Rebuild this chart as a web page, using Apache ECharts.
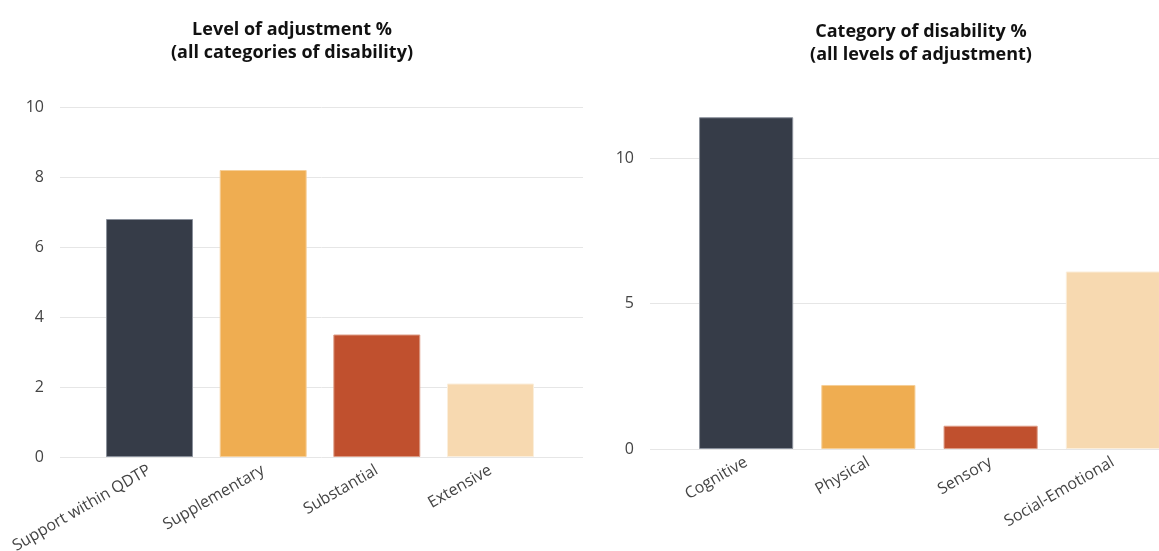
<!DOCTYPE html>
<html>
<head>
<meta charset="utf-8">
<script src="https://cdn.jsdelivr.net/npm/echarts@6/dist/echarts.min.js"></script>
<style>
html,body{margin:0;padding:0;background:#fff;}
#c{width:1159px;height:551px;}
</style>
</head>
<body>
<div id="c"></div>
<script>
// ---- data ----
const levelCategories = ['Support within QDTP', 'Supplementary', 'Substantial', 'Extensive'];
const levelValues = [6.8, 8.2, 3.5, 2.1];
const disabilityCategories = ['Cognitive', 'Physical', 'Sensory', 'Social-Emotional'];
const disabilityValues = [11.4, 2.2, 0.8, 6.1];
const barColors = ['#363c48', '#efad51', '#c0502e', '#f7d9b0'];
const borderColors = ['#8a909b', '#f6cf98', '#dd9c86', '#fbeedb'];
const leftTitle = 'Level of adjustment %\n(all categories of disability)';
const rightTitle = 'Category of disability %\n(all levels of adjustment)';

const FONT = '"Open Sans", "Noto Sans", sans-serif';
const chart = echarts.init(document.getElementById('c'), null, {renderer: 'canvas'});

function barData(vals) {
  return vals.map((v, i) => ({
    value: v,
    itemStyle: {color: barColors[i], borderColor: borderColors[i], borderWidth: 1}
  }));
}

const catLabel = {
  rotate: 30, fontSize: 16, color: '#444', fontFamily: FONT, margin: 12, interval: 0
};
const titleStyle = {fontSize: 18, fontWeight: 'bold', color: '#111', fontFamily: FONT, lineHeight: 23};

chart.setOption({
  animation: false,
  title: [
    {text: leftTitle, left: 287, top: 13, textAlign: 'center', textStyle: titleStyle},
    {text: rightTitle, left: 916, top: 15, textAlign: 'center', textStyle: titleStyle}
  ],
  grid: [
    // gridline grids
    {left: 60, top: 107, width: 523, height: 350, outerBoundsMode: 'none'},
    {left: 650, top: 12.5, width: 560, height: 436.5, outerBoundsMode: 'none'},
    // bar grids
    {left: 92.7, top: 107, width: 454.6, height: 350, outerBoundsMode: 'none'},
    {left: 685, top: 12.5, width: 489, height: 436.5, outerBoundsMode: 'none'}
  ],
  xAxis: [
    {gridIndex: 0, type: 'category', data: levelCategories, show: false},
    {gridIndex: 1, type: 'category', data: disabilityCategories, show: false},
    {gridIndex: 2, type: 'category', data: levelCategories,
     axisLine: {show: false}, axisTick: {show: false}, axisLabel: catLabel},
    {gridIndex: 3, type: 'category', data: disabilityCategories,
     axisLine: {show: false}, axisTick: {show: false}, axisLabel: catLabel}
  ],
  yAxis: [
    {gridIndex: 0, type: 'value', min: 0, max: 10, interval: 2,
     axisLine: {show: false}, axisTick: {show: false},
     axisLabel: {fontSize: 16, color: '#444', fontFamily: FONT, margin: 16},
     splitLine: {lineStyle: {color: '#e6e6e6', width: 1}}},
    {gridIndex: 1, type: 'value', min: 0, max: 15, interval: 5,
     axisLine: {show: false}, axisTick: {show: false},
     axisLabel: {fontSize: 16, color: '#444', fontFamily: FONT, margin: 16, showMaxLabel: false},
     splitLine: {lineStyle: {color: '#e6e6e6', width: 1}, showMaxLine: false}},
    {gridIndex: 2, type: 'value', min: 0, max: 10, interval: 2, show: false, splitLine: {show: false}},
    {gridIndex: 3, type: 'value', min: 0, max: 15, interval: 5, show: false, splitLine: {show: false}}
  ],
  series: [
    {type: 'bar', xAxisIndex: 2, yAxisIndex: 2, data: barData(levelValues), barCategoryGap: '23.5%'},
    {type: 'bar', xAxisIndex: 3, yAxisIndex: 3, data: barData(disabilityValues), barCategoryGap: '23%'}
  ]
});
</script>
</body>
</html>
